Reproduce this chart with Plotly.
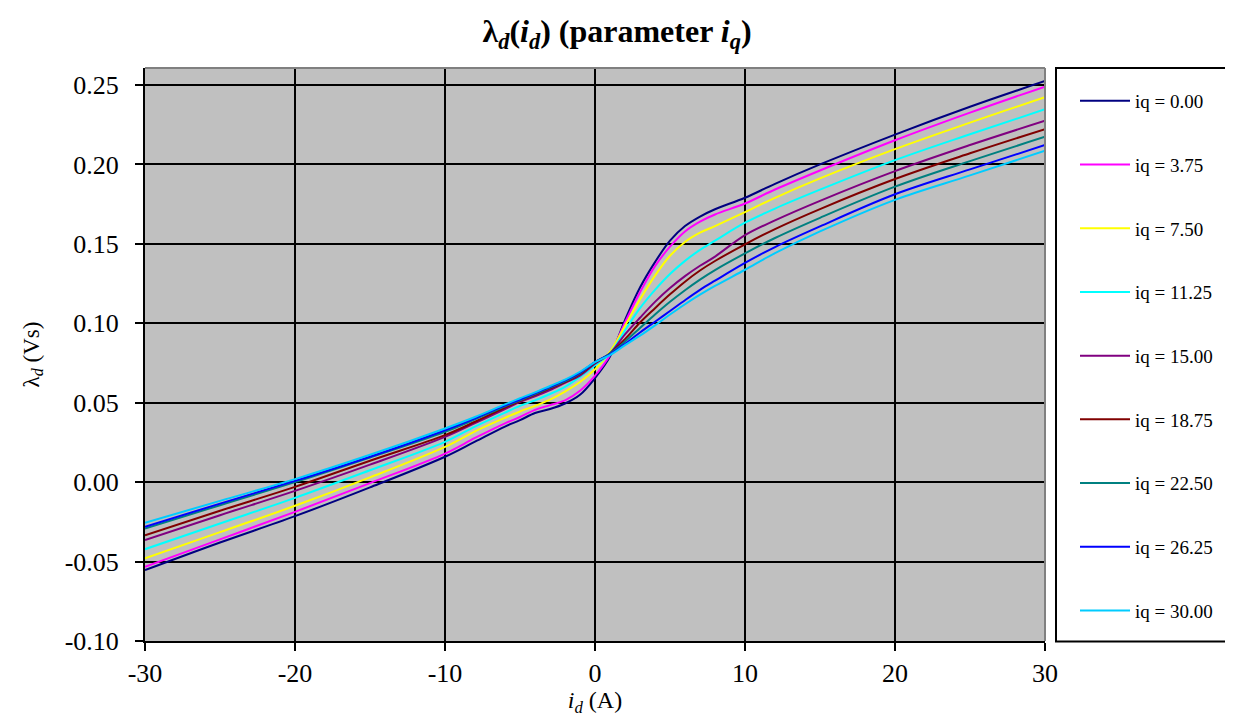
import plotly.graph_objects as go

# x grid (i_d in A)
id_vals = [-30, -25, -20, -15, -10, -8, -6, -5, -4, -3, -2, -1, 0, 1, 2, 3, 4, 5, 6, 7, 8, 10, 12, 15, 20, 25, 30]

lam_iq_0_00 = [-0.0554, -0.0380, -0.0214, -0.0033, 0.0160, 0.0255, 0.0350, 0.0390, 0.0435, 0.0460, 0.0495, 0.0550, 0.0655, 0.0790,
               0.1020, 0.1225, 0.1385, 0.1520, 0.1612, 0.1672, 0.1718, 0.1790, 0.1878, 0.2000, 0.2188, 0.2363, 0.2525]
lam_iq_3_75 = [-0.0533, -0.0360, -0.0187, -0.0006, 0.0180, 0.0278, 0.0370, 0.0410, 0.0455, 0.0485, 0.0515, 0.0575, 0.0670, 0.0800,
               0.1005, 0.1195, 0.1360, 0.1482, 0.1578, 0.1640, 0.1685, 0.1754, 0.1842, 0.1962, 0.2152, 0.2326, 0.2490]
lam_iq_7_50 = [-0.0480, -0.0315, -0.0149, 0.0030, 0.0222, 0.0320, 0.0405, 0.0445, 0.0480, 0.0520, 0.0570, 0.0630, 0.0710, 0.0820,
               0.0985, 0.1150, 0.1300, 0.1425, 0.1512, 0.1570, 0.1612, 0.1700, 0.1790, 0.1912, 0.2096, 0.2263, 0.2423]
lam_iq_11_25 = [-0.0422, -0.0260, -0.0099, 0.0075, 0.0254, 0.0350, 0.0438, 0.0480, 0.0515, 0.0555, 0.0600, 0.0663, 0.0735, 0.0810,
                0.0955, 0.1095, 0.1210, 0.1310, 0.1393, 0.1462, 0.1520, 0.1633, 0.1722, 0.1841, 0.2027, 0.2190, 0.2347]
lam_iq_15_00 = [-0.0365, -0.0208, -0.0055, 0.0110, 0.0285, 0.0372, 0.0460, 0.0505, 0.0540, 0.0580, 0.0625, 0.0670, 0.0745, 0.0810,
                0.0930, 0.1035, 0.1135, 0.1222, 0.1297, 0.1362, 0.1420, 0.1555, 0.1648, 0.1771, 0.1958, 0.2122, 0.2275]
lam_iq_18_75 = [-0.0334, -0.0180, -0.0030, 0.0135, 0.0296, 0.0380, 0.0470, 0.0510, 0.0550, 0.0590, 0.0630, 0.0680, 0.0750, 0.0810,
                0.0900, 0.1005, 0.1095, 0.1182, 0.1262, 0.1332, 0.1392, 0.1497, 0.1593, 0.1719, 0.1908, 0.2070, 0.2222]
lam_iq_22_50 = [-0.0292, -0.0145, 0.0000, 0.0155, 0.0317, 0.0395, 0.0478, 0.0515, 0.0555, 0.0595, 0.0635, 0.0685, 0.0755, 0.0810,
                0.0885, 0.0970, 0.1055, 0.1135, 0.1208, 0.1275, 0.1335, 0.1440, 0.1537, 0.1664, 0.1860, 0.2021, 0.2174]
lam_iq_26_25 = [-0.0281, -0.0135, 0.0008, 0.0160, 0.0327, 0.0402, 0.0483, 0.0520, 0.0560, 0.0600, 0.0640, 0.0690, 0.0755, 0.0805,
                0.0870, 0.0942, 0.1010, 0.1077, 0.1145, 0.1210, 0.1268, 0.1380, 0.1480, 0.1610, 0.1812, 0.1969, 0.2122]
lam_iq_30_00 = [-0.0256, -0.0118, 0.0019, 0.0172, 0.0338, 0.0410, 0.0490, 0.0528, 0.0565, 0.0605, 0.0645, 0.0695, 0.0755, 0.0800,
                0.0862, 0.0922, 0.0987, 0.1055, 0.1120, 0.1180, 0.1235, 0.1337, 0.1441, 0.1578, 0.1777, 0.1931, 0.2086]

series_names = ["iq = 0.00", "iq = 3.75", "iq = 7.50", "iq = 11.25", "iq = 15.00",
                "iq = 18.75", "iq = 22.50", "iq = 26.25", "iq = 30.00"]
series_values = [lam_iq_0_00, lam_iq_3_75, lam_iq_7_50, lam_iq_11_25, lam_iq_15_00,
                 lam_iq_18_75, lam_iq_22_50, lam_iq_26_25, lam_iq_30_00]
series_colors = ["#000080", "#FF00FF", "#FFFF00", "#00FFFF", "#800080",
                 "#800000", "#008080", "#0000FF", "#00CCFF"]

x_tickvals = [-30, -20, -10, 0, 10, 20, 30]
x_ticktext = ["-30", "-20", "-10", "0", "10", "20", "30"]
y_tickvals = [-0.10, -0.05, 0.00, 0.05, 0.10, 0.15, 0.20, 0.25]
y_ticktext = ["-0.10", "-0.05", "0.00", "0.05", "0.10", "0.15", "0.20", "0.25"]

FONT = "Liberation Serif, Times New Roman, serif"
FIG_W, FIG_H = 1225, 709  # page body adds an 8px margin

fig = go.Figure()
for i, (name, vals, col) in enumerate(zip(series_names, series_values, series_colors)):
    fig.add_trace(go.Scatter(
        x=id_vals, y=vals, mode="lines", name=name,
        line=dict(color=col, width=2, shape="spline", smoothing=1.0),
        legendgroup=f"g{i}",
    ))

fig.update_layout(
    width=FIG_W, height=FIG_H,
    margin=dict(l=137, r=188, t=60, b=76, autoexpand=False),
    paper_bgcolor="white",
    plot_bgcolor="#C0C0C0",
    font=dict(family=FONT, color="black", size=20),
    title=dict(
        text="<b>λ<sub><i>d</i></sub>(<i>i<sub>d</sub></i>) (parameter <i>i<sub>q</sub></i>)</b>",
        x=609 / FIG_W, xref="container", xanchor="center",
        y=1 - 23 / FIG_H, yref="container", yanchor="middle",
        font=dict(family=FONT, size=32, color="black"),
    ),
    xaxis=dict(
        range=[-30, 30], tickvals=x_tickvals, ticktext=x_ticktext,
        showgrid=True, gridcolor="black", gridwidth=2,
        zeroline=False, showline=True, linecolor="black", linewidth=2,
        ticks="outside", ticklen=8, tickwidth=2, tickcolor="black",
        ticklabelstandoff=0,
        tickfont=dict(family=FONT, size=26),
        title=dict(text="<i>i<sub>d</sub></i> (A)", font=dict(family=FONT, size=24), standoff=8),
    ),
    yaxis=dict(
        range=[-0.10, 0.2607], tickvals=y_tickvals, ticktext=y_ticktext,
        showgrid=True, gridcolor="black", gridwidth=2,
        zeroline=False, showline=True, linecolor="black", linewidth=2,
        ticks="outside", ticklen=8, tickwidth=2, tickcolor="black",
        ticklabelstandoff=11,
        tickfont=dict(family=FONT, size=26),
        title=dict(text="λ<sub><i>d</i></sub> (Vs)", font=dict(family=FONT, size=23), standoff=19),
    ),
    showlegend=True,
    legend=dict(
        x=(1075 - 145) / 900, xanchor="left", xref="paper",
        y=1 - (82 - 68) / 573, yanchor="top", yref="paper",
        bgcolor="rgba(0,0,0,0)", borderwidth=0,
        font=dict(family=FONT, size=19, color="black"),
        traceorder="grouped", tracegroupgap=36,
        itemwidth=50,
    ),
    shapes=[
        dict(type="rect", xref="paper", yref="paper",
             x0=(1056 - 145) / 900, x1=(1231 - 145) / 900, y0=-0.001, y1=1.0,
             line=dict(color="black", width=2), fillcolor="rgba(0,0,0,0)", layer="above"),
        dict(type="line", xref="paper", yref="paper", x0=0, x1=1, y0=1, y1=1,
             line=dict(color="#808080", width=2), layer="above"),
        dict(type="line", xref="paper", yref="paper", x0=1, x1=1, y0=0, y1=1,
             line=dict(color="#808080", width=2), layer="above"),
    ],
)

fig.write_html("out.html")
